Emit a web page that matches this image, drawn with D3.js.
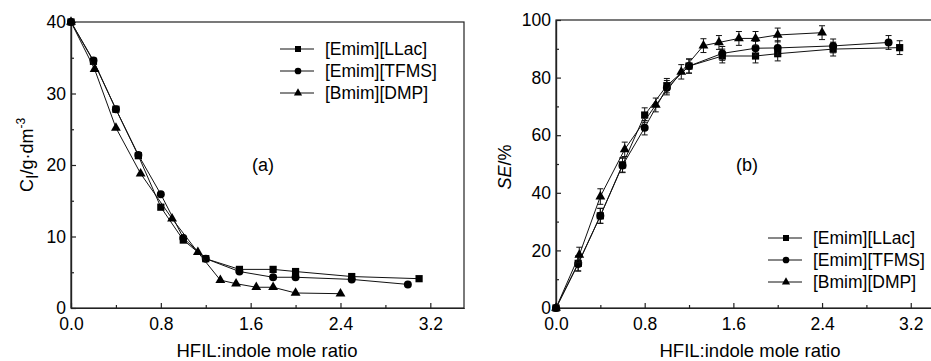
<!DOCTYPE html>
<html>
<head>
<meta charset="utf-8">
<script src="https://cdn.jsdelivr.net/npm/d3@7"></script>
<style>
  body { margin: 0; background: #fff; }
  svg text { font-family: "Liberation Sans", Arial, sans-serif; fill: #000; }
  .axis path, .axis line { stroke: #222; stroke-width: 1.2; }
  .axis text { font-size: 17.5px; }
</style>
</head>
<body>
<div id="chart"></div>
<script>
// series names
var names = ["[Emim][LLac]", "[Emim][TFMS]", "[Bmim][DMP]"];

// HFIL:indole mole ratio, per series
var xLLac = [0, 0.2, 0.4, 0.6, 0.8, 1.0, 1.2, 1.5, 1.8, 2.0, 2.5, 3.1];
var xTFMS = [0, 0.2, 0.4, 0.6, 0.8, 1.0, 1.2, 1.5, 1.8, 2.0, 2.5, 3.0];
var xDMP  = [0, 0.21, 0.4, 0.62, 0.9, 1.13, 1.33, 1.47, 1.65, 1.8, 2.0, 2.4];

// (a) C_I / g·dm^-3
var cLLac = [40, 34.5, 27.8, 21.3, 14.1, 9.5, 6.9, 5.4, 5.4, 5.1, 4.4, 4.1];
var cTFMS = [40, 34.6, 27.8, 21.4, 15.9, 9.8, 6.9, 5.1, 4.3, 4.3, 4.0, 3.3];
var cDMP  = [40, 33.4, 25.2, 18.8, 12.5, 7.8, 3.9, 3.4, 2.9, 2.9, 2.1, 2.0];

// (b) SE / %
var seLLac = [0, 15.5, 32.0, 49.7, 67.0, 77.2, 84.0, 87.5, 87.5, 88.3, 89.9, 90.4];
var seTFMS = [0, 15.3, 32.0, 49.5, 62.6, 76.5, 84.0, 88.4, 90.2, 90.3, 91.0, 92.2];
var seDMP  = [0, 18.4, 38.7, 55.1, 70.5, 82.0, 91.1, 92.2, 93.6, 93.6, 94.8, 95.6];

// (b) error bars
var errLLac = [0, 2.6, 2.6, 2.5, 2.5, 2.5, 2.5, 2.4, 2.4, 2.5, 2.4, 2.4];
var errTFMS = [0, 2.5, 2.6, 2.5, 2.5, 2.5, 2.4, 2.4, 2.4, 2.5, 2.4, 2.4];
var errDMP  = [0, 2.7, 2.7, 2.5, 2.4, 2.5, 2.4, 2.4, 2.4, 2.4, 2.4, 2.4];

var xTicks = [0, 0.8, 1.6, 2.4, 3.2];
var xMinor = [0.4, 1.2, 2.0, 2.8];
var yTicksA = [0, 10, 20, 30, 40];
var yMinorA = [5, 15, 25, 35];
var yTicksB = [0, 20, 40, 60, 80, 100];
var yMinorB = [10, 30, 50, 70, 90];

var symbols = [d3.symbolSquare, d3.symbolCircle, d3.symbolTriangle];
var symSize = [52, 50, 42];

var svg = d3.select("#chart").append("svg")
  .attr("width", 931)
  .attr("height", 361);

function zip(xs, ys, es) {
  return xs.map(function(x, i) { return { x: x, y: ys[i], e: es ? es[i] : 0 }; });
}

function drawPanel(opt) {
  var g = svg.append("g");
  var x = d3.scaleLinear().domain([0, 3.5]).range([opt.left, opt.right]);
  var y = d3.scaleLinear().domain(opt.yDomain).range([308, opt.top]);

  // frame
  g.append("rect")
    .attr("x", opt.left).attr("y", opt.top)
    .attr("width", opt.right - opt.left).attr("height", 308 - opt.top)
    .attr("fill", "none").attr("stroke", "#222").attr("stroke-width", 1.2);

  // axes, ticks pointing inward
  g.append("g").attr("class", "axis")
    .attr("transform", "translate(0,308)")
    .call(d3.axisBottom(x).tickValues(xTicks).tickSizeInner(-5).tickSizeOuter(0)
      .tickPadding(10).tickFormat(d3.format(".1f")));
  g.append("g").attr("class", "axis")
    .attr("transform", "translate(0,308)")
    .call(d3.axisBottom(x).tickValues(xMinor).tickSizeInner(-3).tickSizeOuter(0).tickFormat(""));
  g.append("g").attr("class", "axis")
    .attr("transform", "translate(" + opt.left + ",0)")
    .call(d3.axisLeft(y).tickValues(opt.yTicks).tickSizeInner(-5).tickSizeOuter(0).tickPadding(5));
  g.append("g").attr("class", "axis")
    .attr("transform", "translate(" + opt.left + ",0)")
    .call(d3.axisLeft(y).tickValues(opt.yMinor).tickSizeInner(-3).tickSizeOuter(0).tickFormat(""));

  var line = d3.line().x(function(d) { return x(d.x); }).y(function(d) { return y(d.y); });

  opt.series.forEach(function(s, k) {
    g.append("path")
      .datum(s)
      .attr("fill", "none")
      .attr("stroke", "#111")
      .attr("stroke-width", 1)
      .attr("d", line);

    // error bars
    var eb = g.selectAll(".eb" + k)
      .data(s.filter(function(d) { return d.e > 0; }))
      .enter().append("g");
    eb.append("line")
      .attr("x1", function(d) { return x(d.x); }).attr("x2", function(d) { return x(d.x); })
      .attr("y1", function(d) { return y(d.y - d.e); }).attr("y2", function(d) { return y(d.y + d.e); })
      .attr("stroke", "#111").attr("stroke-width", 1);
    [-1, 1].forEach(function(sgn) {
      eb.append("line")
        .attr("x1", function(d) { return x(d.x) - 3; }).attr("x2", function(d) { return x(d.x) + 3; })
        .attr("y1", function(d) { return y(d.y + sgn * d.e); }).attr("y2", function(d) { return y(d.y + sgn * d.e); })
        .attr("stroke", "#111").attr("stroke-width", 1);
    });

    g.selectAll(".pt" + k)
      .data(s)
      .enter().append("path")
      .attr("transform", function(d) { return "translate(" + x(d.x) + "," + y(d.y) + ")"; })
      .attr("d", d3.symbol().type(symbols[k]).size(symSize[k]))
      .attr("fill", "#000");
  });

  // legend
  names.forEach(function(n, k) {
    var ly = opt.legY + k * 22;
    g.append("line")
      .attr("x1", opt.legX).attr("x2", opt.legX + 34)
      .attr("y1", ly).attr("y2", ly)
      .attr("stroke", "#111").attr("stroke-width", 1);
    g.append("path")
      .attr("transform", "translate(" + (opt.legX + 18) + "," + ly + ")")
      .attr("d", d3.symbol().type(symbols[k]).size(symSize[k] * 0.7))
      .attr("fill", "#000");
    g.append("text")
      .attr("x", opt.legX + 45).attr("y", ly)
      .attr("dy", "0.36em")
      .style("font-size", "17.5px")
      .text(n);
  });

  // panel tag
  g.append("text")
    .attr("x", opt.tagX).attr("y", 165)
    .attr("dy", "0.35em")
    .attr("text-anchor", "middle")
    .style("font-size", "18px")
    .text(opt.tag);

  // x label
  g.append("text")
    .attr("x", opt.xLabelX).attr("y", 357)
    .attr("text-anchor", "middle")
    .style("font-size", "18.5px")
    .text("HFIL:indole mole ratio");

  return g;
}

var ga = drawPanel({
  left: 71, right: 464, top: 22,
  yDomain: [0, 40], yTicks: yTicksA, yMinor: yMinorA,
  series: [zip(xLLac, cLLac), zip(xTFMS, cTFMS), zip(xDMP, cDMP)],
  legX: 280, legY: 49, tag: "(a)", tagX: 263, xLabelX: 267
});

var gb = drawPanel({
  left: 556, right: 944, top: 20,
  yDomain: [0, 100], yTicks: yTicksB, yMinor: yMinorB,
  series: [zip(xLLac, seLLac, errLLac), zip(xTFMS, seTFMS, errTFMS), zip(xDMP, seDMP, errDMP)],
  legX: 768, legY: 238, tag: "(b)", tagX: 747, xLabelX: 750
});

// y labels
var yla = ga.append("text")
  .attr("transform", "translate(33,155) rotate(-90)")
  .attr("text-anchor", "middle")
  .style("font-size", "18px");
yla.append("tspan").text("C");
yla.append("tspan").attr("dy", 5).style("font-size", "16px").text("I");
yla.append("tspan").attr("dy", -5).text("/g·dm");
yla.append("tspan").attr("dy", -8).style("font-size", "12px").text("-3");

var ylb = gb.append("text")
  .attr("transform", "translate(511,167) rotate(-90)")
  .attr("text-anchor", "middle")
  .style("font-size", "18px");
ylb.append("tspan").style("font-style", "italic").text("SE");
ylb.append("tspan").text("/%");
</script>
</body>
</html>
